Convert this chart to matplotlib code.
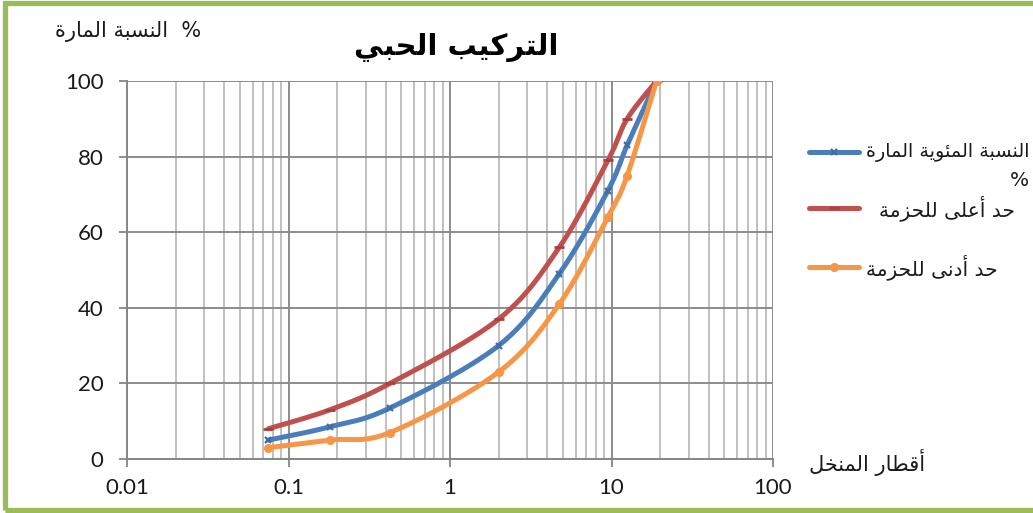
import numpy as np
import matplotlib
matplotlib.use("Agg")
import matplotlib.pyplot as plt
from matplotlib.lines import Line2D
from matplotlib.patches import Rectangle

# ---------------- data ----------------
sieve_mm = [0.075, 0.18, 0.425, 2, 4.75, 9.5, 12.5, 19]
passing = [5, 8.5, 13.5, 30, 49, 71, 83, 100]
upper_limit = [8, 13, 20, 37, 56, 79, 90, 100]
lower_limit = [3, 5, 7, 23, 41, 64, 75, 100]

series_names = ["النسبة المئوية المارة %", "حد أعلى للحزمة", "حد أدنى للحزمة"]
title_txt = "التركيب الحبي"
ylabel_txt = "%  النسبة المارة"
xlabel_txt = "أقطار المنخل"
xticks = [0.01, 0.1, 1, 10, 100]
xtick_labels = ["0.01", "0.1", "1", "10", "100"]
yticks = [0, 20, 40, 60, 80, 100]

# ---------------- arabic shaping ----------------
FORMS = {
    'ا': (0xFE8D, 0xFE8E, None, None),
    'أ': (0xFE83, 0xFE84, None, None),
    'ب': (0xFE8F, 0xFE90, 0xFE91, 0xFE92),
    'ة': (0xFE93, 0xFE94, None, None),
    'ت': (0xFE95, 0xFE96, 0xFE97, 0xFE98),
    'ح': (0xFEA1, 0xFEA2, 0xFEA3, 0xFEA4),
    'خ': (0xFEA5, 0xFEA6, 0xFEA7, 0xFEA8),
    'د': (0xFEA9, 0xFEAA, None, None),
    'ر': (0xFEAD, 0xFEAE, None, None),
    'ز': (0xFEAF, 0xFEB0, None, None),
    'س': (0xFEB1, 0xFEB2, 0xFEB3, 0xFEB4),
    'ط': (0xFEC1, 0xFEC2, 0xFEC3, 0xFEC4),
    'ع': (0xFEC9, 0xFECA, 0xFECB, 0xFECC),
    'ق': (0xFED5, 0xFED6, 0xFED7, 0xFED8),
    'ك': (0xFED9, 0xFEDA, 0xFEDB, 0xFEDC),
    'ل': (0xFEDD, 0xFEDE, 0xFEDF, 0xFEE0),
    'م': (0xFEE1, 0xFEE2, 0xFEE3, 0xFEE4),
    'ن': (0xFEE5, 0xFEE6, 0xFEE7, 0xFEE8),
    'و': (0xFEED, 0xFEEE, None, None),
    'ى': (0xFEEF, 0xFEF0, None, None),
    'ي': (0xFEF1, 0xFEF2, 0xFEF3, 0xFEF4),
    'ئ': (0xFE89, 0xFE8A, 0xFE8B, 0xFE8C),
}


def shape(s):
    out = []
    for i, ch in enumerate(s):
        if ch not in FORMS:
            out.append(ch)
            continue
        prev = s[i - 1] if i > 0 else None
        nxt = s[i + 1] if i + 1 < len(s) else None
        jp = prev in FORMS and FORMS[prev][2] is not None
        jn = FORMS[ch][2] is not None and nxt in FORMS
        iso, fin, ini, med = FORMS[ch]
        if jp and jn:
            c = med
        elif jp:
            c = fin
        elif jn:
            c = ini
        else:
            c = iso
        out.append(chr(c))
    return "".join(out)[::-1]


# ---------------- figure ----------------
W, H = 1033, 513
fig = plt.figure(figsize=(W / 100, H / 100), dpi=100)
fig.patch.set_facecolor("white")


def fx(x):
    return x / W


def fy(y):
    return 1 - y / H


ax = fig.add_axes([fx(127), fy(459), fx(773) - fx(127), fy(81) - fy(459)])
ax.set_xscale("log")
ax.set_xlim(0.01, 100)
ax.set_ylim(0, 100)

ax.set_xticks(xticks)
ax.set_xticklabels(xtick_labels)
ax.set_yticks(yticks)
ax.tick_params(axis="both", which="major", labelsize=16, color="#868686",
               direction="out", length=6, width=1.3)
ax.tick_params(axis="x", which="major", pad=8)
ax.tick_params(axis="y", which="major", pad=11)
ax.tick_params(axis="x", which="minor", length=0)
for lab in ax.get_xticklabels() + ax.get_yticklabels():
    lab.set_fontfamily("Lato")
    lab.set_color("#1a1a1a")

ax.grid(True, which="major", axis="both", color="#8c8c8c", lw=1.4)
ax.grid(True, which="minor", axis="x", color="#c0c0c0", lw=1.4)
ax.set_axisbelow(True)
for sp in ["top", "right"]:
    ax.spines[sp].set_visible(False)
for sp in ["left", "bottom"]:
    ax.spines[sp].set_color("#868686")
    ax.spines[sp].set_linewidth(1.4)

# Excel-like smoothing (Catmull-Rom Bezier in display space)
PX_DEC = (773 - 127) / 4.0
PX_UNIT = (459 - 81) / 100.0


def smooth(xs, ys, n=40):
    u = np.log10(np.asarray(xs, float)) * PX_DEC
    v = np.asarray(ys, float) * PX_UNIT
    P = np.column_stack([u, v])
    m = len(P)
    pts = []
    for i in range(m - 1):
        p0 = P[i - 1] if i > 0 else P[i]
        p1 = P[i]
        p2 = P[i + 1]
        p3 = P[i + 2] if i + 2 < m else P[i + 1]
        c1 = p1 + (p2 - p0) / 6.0
        c2 = p2 - (p3 - p1) / 6.0
        t = np.linspace(0, 1, n)[:, None]
        seg = ((1 - t) ** 3) * p1 + 3 * ((1 - t) ** 2) * t * c1 + 3 * (1 - t) * t ** 2 * c2 + t ** 3 * p2
        pts.append(seg if i == 0 else seg[1:])
    pts = np.vstack(pts)
    return 10 ** (pts[:, 0] / PX_DEC), pts[:, 1] / PX_UNIT


styles = [
    dict(data=passing, color="#4a7ebb", mc="#3d6ea8", marker="x", ms=5, mew=1.6),
    dict(data=upper_limit, color="#c0504d", mc="#a8403d", marker="_", ms=7, mew=2.0),
    dict(data=lower_limit, color="#f79646", mc="#f79646", marker="o", ms=5.5, mew=1.0),
]
for st in styles:
    sx, sy = smooth(sieve_mm, st["data"])
    ax.plot(sx, sy, color=st["color"], lw=3.6, solid_capstyle="round", zorder=3)
    ax.plot(sieve_mm, st["data"], ls="none", marker=st["marker"], ms=st["ms"],
            mec=st["mc"], mfc=st["mc"], mew=st["mew"], zorder=4)

# ---------------- texts ----------------
AR = ["DejaVu Sans"]
fig.text(fx(456), fy(47), shape(title_txt), ha="center", va="center",
         fontsize=21, fontweight="bold", family=AR, color="black")
fig.text(fx(128), fy(32), shape(ylabel_txt), ha="center", va="center",
         fontsize=15, family=AR, color="#1a1a1a")
fig.text(fx(867), fy(463), shape(xlabel_txt), ha="center", va="center",
         fontsize=15, family=AR, color="#1a1a1a")

# legend (manual)
leg_y = [152, 208, 267]
leg_text_x = 865
first_lines = series_names[0].rsplit(" ", 1)
for i, st in enumerate(styles):
    y = leg_y[i]
    fig.add_artist(Line2D([fx(809), fx(859)], [fy(y), fy(y)], color=st["color"],
                          lw=3.6, solid_capstyle="round", transform=fig.transFigure))
    fig.add_artist(Line2D([fx(834)], [fy(y)], ls="none", marker=st["marker"],
                          ms=st["ms"], mec=st["mc"], mfc=st["mc"], mew=st["mew"],
                          transform=fig.transFigure))
    if i == 0:
        fig.text(fx(1029), fy(y), shape(first_lines[0]), ha="right", va="center",
                 fontsize=13.8, family=AR, color="#1a1a1a")
        fig.text(fx(1029), fy(y + 29), first_lines[1], ha="right", va="center",
                 fontsize=14.5, family=AR, color="#1a1a1a")
    else:
        fig.text(fx(leg_text_x + (14 if i == 1 else 1)), fy(y), shape(series_names[i]),
                 ha="left", va="center", fontsize=14.5, family=AR, color="#1a1a1a")

# green frame
fig.add_artist(Rectangle((fx(5), fy(510)), fx(W + 20) - fx(5), fy(3) - fy(510),
                         transform=fig.transFigure, fill=False,
                         edgecolor="#9bbb59", lw=3.8))

fig.savefig("out.png", dpi=100, facecolor="white")
